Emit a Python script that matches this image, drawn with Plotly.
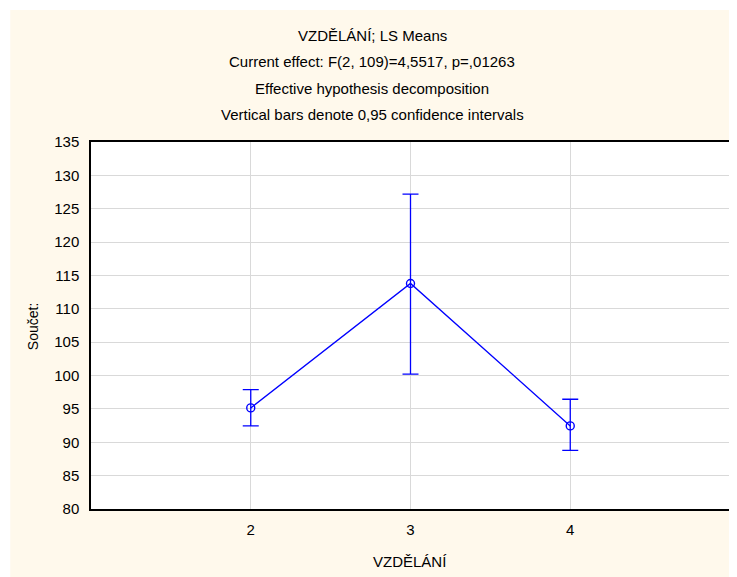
import plotly.graph_objects as go

# Data
categories = [2, 3, 4]
ls_means = [95.15, 113.8, 92.45]
ci_upper = [97.9, 127.2, 96.45]
ci_lower = [92.45, 100.2, 88.8]
y_ticks = [80, 85, 90, 95, 100, 105, 110, 115, 120, 125, 130, 135]

title_lines = [
    "VZDĚLÁNÍ; LS Means",
    "Current effect: F(2, 109)=4,5517, p=,01263",
    "Effective hypothesis decomposition",
    "Vertical bars denote 0,95 confidence intervals",
]
x_title = "VZDĚLÁNÍ"
y_title = "Součet:"

# The page body adds an 8px offset; figure is sized so it ends at the window edge.
OFF = 8
W, H = 737 - OFF, 577 - OFF
L, R, T, B = 91 - OFF, 737 - 732, 142 - OFF, 577 - 509
pw = W - L - R
ph = H - T - B


def px_x(xp):
    return (xp - OFF - L) / pw


def px_y(yp):
    return (H - B - (yp - OFF)) / ph


err_plus = [u - m for u, m in zip(ci_upper, ls_means)]
err_minus = [m - l for m, l in zip(ls_means, ci_lower)]

fig = go.Figure()
fig.add_trace(go.Scatter(
    x=categories, y=ls_means,
    mode="lines+markers",
    line=dict(color="#0000FF", width=1.3),
    marker=dict(symbol="circle-open", size=8, color="#0000FF", line=dict(width=1.4)),
    error_y=dict(type="data", symmetric=False, array=err_plus, arrayminus=err_minus,
                 color="#0000FF", thickness=1.3, width=8),
    showlegend=False,
))

cream = "#FFF9EC"
fig.add_shape(type="rect", xref="paper", yref="paper",
              x0=px_x(10), x1=px_x(740), y0=px_y(580), y1=px_y(10),
              fillcolor=cream, line=dict(width=0), layer="below")
fig.add_shape(type="rect", xref="paper", yref="paper",
              x0=0, x1=1, y0=0, y1=1,
              fillcolor="white", line=dict(width=0), layer="below")

title_y = [35, 61.5, 88, 114.5]
for txt, yp in zip(title_lines, title_y):
    fig.add_annotation(text=txt, xref="paper", yref="paper",
                       x=px_x(373), y=px_y(yp),
                       xanchor="center", yanchor="middle", showarrow=False,
                       font=dict(size=15, color="black"))

fig.add_annotation(text=x_title, xref="paper", yref="paper",
                   x=px_x(411), y=px_y(561), xanchor="center", yanchor="middle",
                   showarrow=False, font=dict(size=15, color="black"))
fig.add_annotation(text=y_title, xref="paper", yref="paper",
                   x=px_x(33), y=px_y(327), xanchor="center", yanchor="middle",
                   textangle=-90, showarrow=False, font=dict(size=14, color="black"))

fig.update_layout(
    width=W, height=H,
    margin=dict(l=L, r=R, t=T, b=B),
    paper_bgcolor="white",
    plot_bgcolor="white",
    font=dict(family="Liberation Sans, Arial, sans-serif", size=15, color="black"),
)
fig.update_xaxes(
    range=[1, 5], tickvals=categories, ticktext=[str(c) for c in categories],
    showgrid=True, gridcolor="#D9D9D9", gridwidth=1.2,
    showline=True, linecolor="black", linewidth=1.5, mirror=True,
    ticks="", zeroline=False, tickfont=dict(size=15),
    ticklabelstandoff=6,
)
fig.update_yaxes(
    range=[80, 135], tickvals=y_ticks,
    showgrid=True, gridcolor="#D9D9D9", gridwidth=1.2,
    showline=True, linecolor="black", linewidth=1.5, mirror=True,
    ticks="", zeroline=False, tickfont=dict(size=15),
    ticklabelstandoff=7,
)

fig.write_html("out.html")
